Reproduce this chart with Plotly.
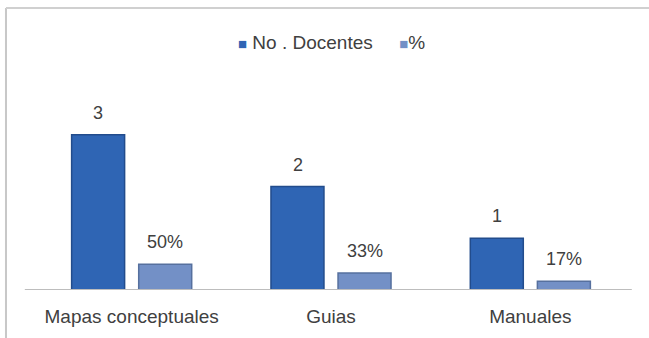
import plotly.graph_objects as go

categories = ["Mapas conceptuales", "Guias", "Manuales"]
docentes = [3, 2, 1]
porcentaje = [0.50, 0.33, 0.17]
series_names = ["No . Docentes", "%"]

FONT = "Liberation Sans"
TXT = "#404040"
C1 = "#2f65b4"
C2 = "#7390c6"

fig = go.Figure()
fig.add_trace(go.Bar(x=categories, y=docentes, name=series_names[0],
                     marker=dict(color=C1, line=dict(color="#224c8c", width=1.5))))
fig.add_trace(go.Bar(x=categories, y=porcentaje, name=series_names[1],
                     marker=dict(color=C2, line=dict(color="#56709e", width=1.5))))

annotations = []
for c, v in zip(categories, docentes):
    annotations.append(dict(x=c, y=v, text=str(v), showarrow=False, xshift=-33.5,
                            yanchor="bottom", yshift=10, font=dict(size=18, color=TXT, family=FONT)))
for c, v in zip(categories, porcentaje):
    annotations.append(dict(x=c, y=v, text=f"{round(v*100)}%", showarrow=False, xshift=33.5,
                            yanchor="bottom", yshift=10, font=dict(size=18, color=TXT, family=FONT)))

# legend drawn as text
legend_text = (f"<span style='color:{C1};font-size:15px'>■</span> {series_names[0]}"
               f"&nbsp;&nbsp;&nbsp;&nbsp;&nbsp;<span style='color:{C2};font-size:15px'>■</span>{series_names[1]}")
annotations.append(dict(xref="paper", yref="paper", x=0.5, y=1.37, xanchor="center", yanchor="middle",
                        text=legend_text, showarrow=False, font=dict(size=19, color=TXT, family=FONT)))

shapes = [
    dict(type="line", xref="paper", yref="y", x0=-0.012, x1=1.003, y0=0, y1=0,
         line=dict(color="#bdbdbd", width=2)),
    dict(type="line", xref="paper", yref="paper", x0=-0.0435, x1=-0.0435, y0=-0.3, y1=1.558,
         line=dict(color="#c8c8c8", width=2)),
    dict(type="line", xref="paper", yref="paper", x0=-0.0435, x1=1.05, y0=1.558, y1=1.558,
         line=dict(color="#d0d0d0", width=2)),
]

fig.update_layout(
    width=649, height=338,
    margin=dict(l=32, r=19, t=109, b=48),
    paper_bgcolor="white", plot_bgcolor="white",
    barmode="group", bargap=0.327, bargroupgap=0.21,
    showlegend=False,
    xaxis=dict(showline=False, ticks="outside", ticklen=9, tickcolor="rgba(0,0,0,0)",
               automargin=False, tickfont=dict(size=19, color=TXT, family=FONT)),
    yaxis=dict(range=[0, 3.5], visible=False, showgrid=False, automargin=False),
    annotations=annotations, shapes=shapes,
    font=dict(family=FONT),
)

fig.write_html("out.html")
